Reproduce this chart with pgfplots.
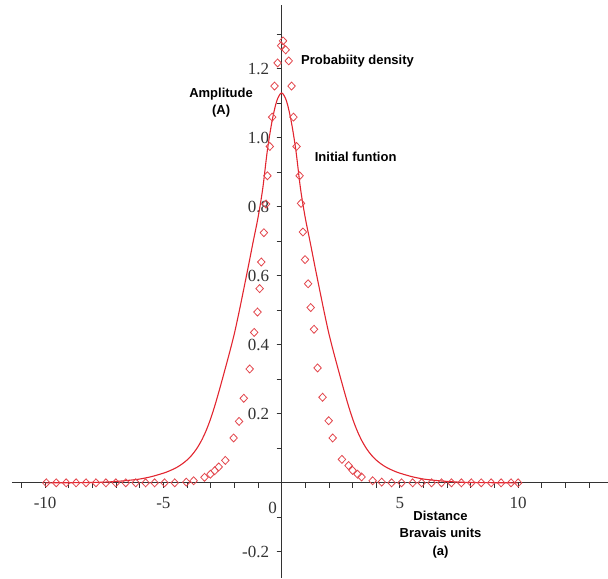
\documentclass[border=0pt]{standalone}
\usepackage{fontspec}
\setmainfont{Liberation Serif}
\newfontfamily\lsans{Liberation Sans}
\usepackage{pgfplots}
\pgfplotsset{compat=1.18}

\definecolor{curvered}{RGB}{226,38,48}
\definecolor{markred}{RGB}{226,70,76}

% initial function (solid)
\pgfplotstableread{
x y
-10 0.000
-9 0.0003
-8 0.001
-7.5 0.002
-7 0.004
-6.5 0.007
-6 0.011
-5.5 0.018
-5 0.028
-4.8 0.033
-4.6 0.039
-4.4 0.046
-4.2 0.055
-4 0.066
-3.8 0.080
-3.6 0.098
-3.4 0.121
-3.2 0.150
-3 0.186
-2.8 0.229
-2.6 0.277
-2.4 0.327
-2.2 0.378
-2 0.432
-1.8 0.495
-1.6 0.562
-1.4 0.630
-1.2 0.700
-1 0.768
-0.8 0.852
-0.6 0.965
-0.4 1.050
-0.2 1.108
0 1.130
0.2 1.108
0.4 1.050
0.6 0.965
0.8 0.852
1 0.768
1.2 0.700
1.4 0.630
1.6 0.562
1.8 0.495
2 0.432
2.2 0.378
2.4 0.327
2.6 0.277
2.8 0.229
3 0.186
3.2 0.150
3.4 0.121
3.6 0.098
3.8 0.080
4 0.066
4.2 0.055
4.4 0.046
4.6 0.039
4.8 0.033
5 0.028
5.5 0.018
6 0.011
6.5 0.007
7 0.004
7.5 0.002
8 0.001
9 0.0003
10 0.000
}\initial

% probability density (diamonds)
\pgfplotstableread{
x y
-9.95 0
-9.53 0
-9.11 0
-8.69 0
-8.27 0
-7.85 0
-7.43 0
-7.01 0
-6.59 0
-6.17 0
-5.75 0
-5.37 0
-4.95 0
-4.52 0
-4.03 0.002
-3.72 0.006
-3.26 0.016
-3.01 0.025
-2.83 0.035
-2.66 0.046
-2.38 0.065
-2.03 0.130
-1.80 0.178
-1.60 0.245
-1.35 0.330
-1.16 0.436
-1.02 0.495
-0.93 0.563
-0.86 0.640
-0.75 0.725
-0.66 0.808
-0.60 0.890
-0.50 0.975
-0.40 1.060
-0.30 1.150
-0.17 1.217
-0.02 1.267
0.06 1.281
0.17 1.255
0.30 1.223
0.42 1.150
0.50 1.060
0.63 0.975
0.76 0.890
0.82 0.810
0.90 0.727
0.99 0.647
1.12 0.577
1.23 0.508
1.37 0.445
1.52 0.333
1.73 0.248
1.99 0.180
2.16 0.130
2.55 0.068
2.83 0.050
3.00 0.036
3.21 0.025
3.38 0.017
3.85 0.006
4.23 0.002
4.65 0
5.07 0
5.54 0
5.92 0
6.34 0
6.76 0
7.18 0
7.60 0
8.02 0
8.44 0
8.86 0
9.28 0
9.70 0
10.0 0
}\density

\begin{document}
\begin{tikzpicture}
\begin{axis}[
  scale only axis, width=596pt, height=572.7pt,
  xmin=-11.4, xmax=13.8, ymin=-0.275, ymax=1.385,
  axis lines=middle,
  axis line style={-, black!80, line width=0.8pt},
  xtick={-10,-5,5,10},
  minor xtick={-11,-10,...,13},
  ytick={-0.2,0.2,0.4,0.6,0.8,1.0,1.2},
  minor ytick={-0.2,-0.1,0.1,0.2,0.3,0.4,0.5,0.6,0.7,0.8,0.9,1.0,1.1,1.2,1.3},
  tick align=outside,
  major tick length=5pt, minor tick length=5pt,
  tick style={black!80, line width=0.8pt},
  ticklabel style={font=\fontsize{17}{20}\selectfont, text=black!80},
  xticklabel style={yshift=-6pt, /pgf/number format/assume math mode=true},
  yticklabel style={xshift=-4pt, /pgf/number format/.cd, fixed, fixed zerofill, precision=1, assume math mode=true},
  clip=false,
]
\addplot[curvered, line width=1.1pt, smooth, tension=0.5] table {\initial};
\addplot[only marks, mark=diamond, mark size=4pt, mark options={markred, line width=0.8pt, fill=none, xscale=1.25}] table {\density};

\node[font=\fontsize{17}{20}\selectfont, text=black!80] at (axis cs:-0.38,-0.072) {0};
\node[font=\lsans\bfseries\fontsize{13}{15}\selectfont] at (axis cs:3.21,1.223) {Probabiity density};
\node[font=\lsans\bfseries\fontsize{13}{17}\selectfont, align=center] at (axis cs:-2.56,1.101) {Amplitude\\(A)};
\node[font=\lsans\bfseries\fontsize{13}{15}\selectfont] at (axis cs:3.13,0.945) {Initial funtion};
\node[font=\lsans\bfseries\fontsize{13}{17.5}\selectfont, align=center] at (axis cs:6.72,-0.149) {Distance\\Bravais units\\(a)};

\coordinate (bl) at (rel axis cs:0,0);
\coordinate (tr) at (rel axis cs:1,1);
\end{axis}
\pgfresetboundingbox
\path[use as bounding box] ([xshift=-12pt,yshift=-1pt]bl) rectangle ([yshift=5pt]tr);
\end{tikzpicture}
\end{document}
